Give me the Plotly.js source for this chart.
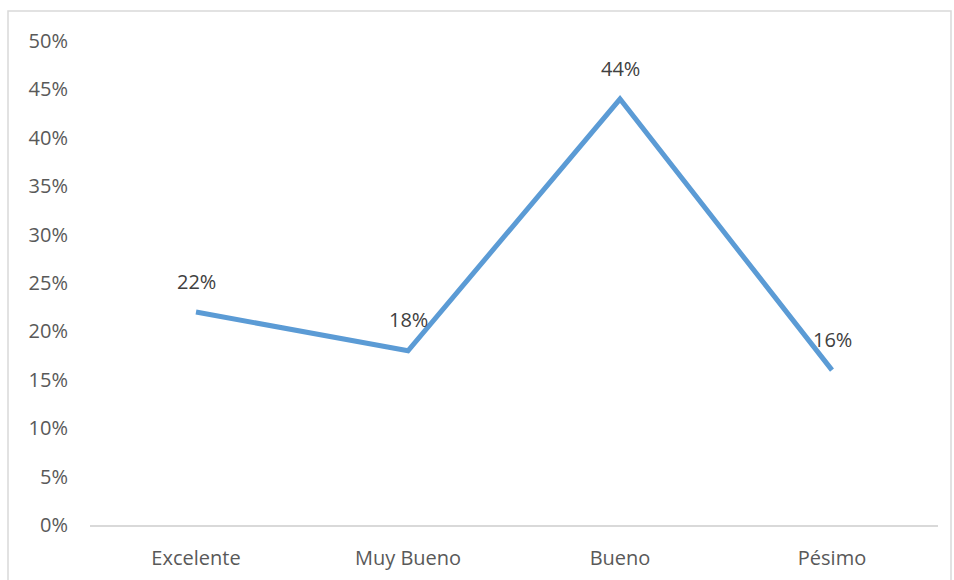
<!DOCTYPE html>
<html>
<head>
<meta charset="utf-8">
<script src="https://cdn.plot.ly/plotly-3.0.1.min.js"></script>
<style>html,body{margin:0;padding:0;background:#fff;}#chart{width:954px;height:580px;}</style>
</head>
<body>
<div id="chart"></div>
<script>
const categories = ["Excelente", "Muy Bueno", "Bueno", "Pésimo"];
const values = [0.22, 0.18, 0.44, 0.16];
const valueLabels = ["22%", "18%", "44%", "16%"];
const yTickVals = [0, 0.05, 0.10, 0.15, 0.20, 0.25, 0.30, 0.35, 0.40, 0.45, 0.50];
const yTickText = ["0%", "5%", "10%", "15%", "20%", "25%", "30%", "35%", "40%", "45%", "50%"];

const font = "'Open Sans', 'Noto Sans', sans-serif";
const textColor = "#595959";

const trace = {
  type: "scatter",
  mode: "lines",
  x: categories,
  y: values,
  line: {color: "#5B9BD5", width: 5},
  hoverinfo: "skip"
};

const annotations = categories.map((c, i) => ({
  x: c, y: values[i], xref: "x", yref: "y",
  text: valueLabels[i], showarrow: false, yshift: 31,
  font: {family: font, size: 20, color: "#404040"}
}));

const layout = {
  width: 954, height: 580,
  margin: {l: 90, r: 16, t: 41, b: 55},
  paper_bgcolor: "#fff", plot_bgcolor: "#fff",
  showlegend: false,
  font: {family: font, size: 20, color: textColor},
  xaxis: {
    type: "category", range: [-0.5, 3.5],
    showline: true, linecolor: "#D9D9D9", linewidth: 1.5,
    showgrid: false, zeroline: false, ticks: "",
    ticklabelstandoff: 14,
    tickfont: {family: font, size: 20, color: textColor}
  },
  yaxis: {
    range: [0, 0.5], tickvals: yTickVals, ticktext: yTickText,
    showgrid: false, zeroline: false, showline: false, ticks: "",
    ticklabelstandoff: 21,
    tickfont: {family: font, size: 20, color: textColor}
  },
  annotations: annotations,
  shapes: [{
    type: "rect", xref: "paper", yref: "paper",
    x0: (8 - 90) / 848, x1: (951 - 90) / 848,
    y0: (525 - 590) / 484, y1: (525 - 11) / 484,
    line: {color: "#D9D9D9", width: 1.5}, fillcolor: "rgba(0,0,0,0)", layer: "below"
  }]
};

Plotly.newPlot("chart", [trace], layout, {displayModeBar: false, staticPlot: true});
</script>
</body>
</html>
